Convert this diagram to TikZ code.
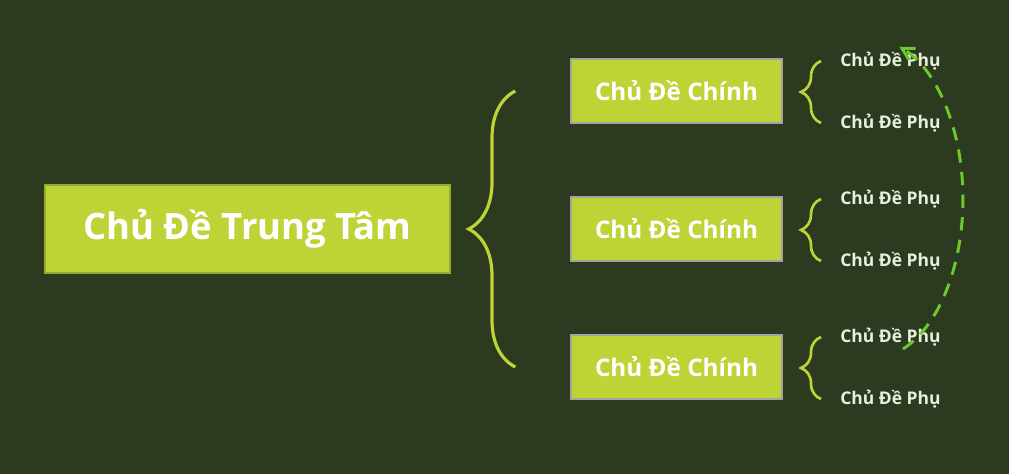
\documentclass[tikz,border=0pt]{standalone}
\usepackage{fontspec}
\setmainfont{Open Sans}
\usetikzlibrary{arrows.meta,decorations.pathreplacing}
\definecolor{nen}{HTML}{2C3A1F}
\definecolor{xanhla}{HTML}{BED335}
\definecolor{vienxam}{HTML}{A3A3A3}
\definecolor{chuphu}{HTML}{E8EFDF}
\definecolor{xanhcung}{HTML}{6DC92E}
\begin{document}
\begin{tikzpicture}[x=0.75pt, y=-0.75pt,
		trungtam/.style={fill=xanhla, draw=xanhla!80!black, line width=0.8pt, minimum width=303.75pt, minimum height=66pt, text=white, font=\fontsize{27.3}{33}\selectfont\bfseries},
		chinh/.style={fill=xanhla, draw=vienxam, line width=1pt, minimum width=158.25pt, minimum height=48pt, text=white, font=\fontsize{18.2}{22}\selectfont\bfseries},
		phu/.style={text=chuphu, anchor=west, inner sep=0pt, font=\fontsize{13.1}{16}\selectfont\bfseries},
		ngoaclon/.style={draw=xanhla, line width=2.4pt, decorate, decoration={brace, amplitude=35pt}},
		ngoacnho/.style={draw=xanhla, line width=2pt, decorate, decoration={brace, amplitude=15pt}},
		muiten/.style={draw=xanhcung, line width=2.2pt, dash pattern=on 10pt off 7pt, -{Straight Barb[length=9pt, width=10pt]}}]
		\fill[nen] (0,0) rectangle (1009,474);
		\node[trungtam] (tt) at (247.5,229) {Chủ Đề Trung Tâm};
		\foreach \y [count=\i] in {91,229,367} {
			\node[chinh] (c\i) at (676.5,\y) {Chủ Đề Chính};
			\node[phu] (p\i a) at (840,\y-30) {Chủ Đề Phụ};
			\node[phu] (p\i b) at (840,\y+32) {Chủ Đề Phụ};
			\draw[ngoacnho] ([xshift=-14.25pt]p\i b.west) -- ([xshift=-14.25pt]p\i a.west);
		}
		\draw[ngoaclon] ([xshift=-41.25pt]c3.west) -- ([xshift=-41.25pt]c1.west);
		\coordinate (cungdau) at (903,349);
		\draw[muiten] (cungdau) arc[start angle=69.6, end angle=-72, x radius=92, y radius=160] coordinate (cungcuoi);
	\end{tikzpicture}
\end{document}
